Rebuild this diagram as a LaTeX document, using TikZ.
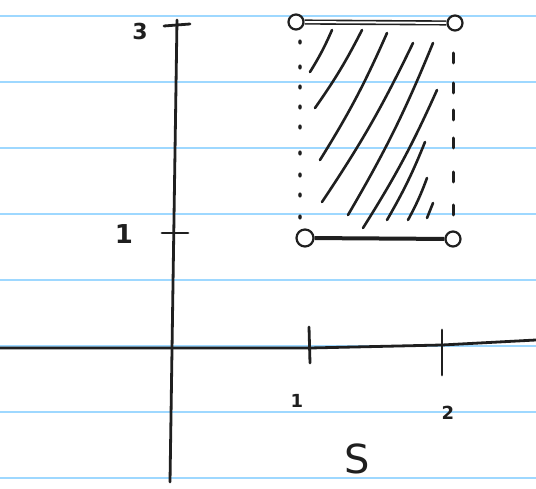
\documentclass[tikz,border=0pt]{standalone}
\usepackage{fontspec}
\setmainfont{DejaVu Sans}
\begin{document}
\begin{tikzpicture}[x=1pt,y=-1pt,
  ruled/.style={draw=blue!40!cyan!38!white, line width=2.2pt},
  ink/.style={draw=black!88, line width=2.8pt, line cap=round},
  hatch/.style={draw=black!88, line width=2.6pt, line cap=round},
  endpt/.style={circle, draw=black!88, line width=2.2pt, minimum size=15pt, inner sep=0pt, fill=white},
  lbl/.style={text=black!88, inner sep=0pt}]
\useasboundingbox (0,0) rectangle (536,489);
\fill[white] (0,0) rectangle (536,489);
% notebook lines
\foreach \yy in {16,82,148,214,280,346,412,478}
  \draw[ruled] (0,\yy) -- (536,\yy);
% axes
\coordinate (ytop) at (177,20);
\coordinate (ybot) at (170,482);
\draw[ink] (ytop) -- (ybot);
\coordinate (xl) at (0,348);
\coordinate (xr) at (536,340);
\draw[ink] (xl) -- (310,348) -- (442,345) -- (xr);
% ticks
\draw[ink] (164,26) -- (190,24);
\draw[ink] (162,233) -- (188,233);
\draw[ink] (309,327) -- (310,363);
\draw[ink] (442,330) -- (442,375);
% labels
\node[lbl, font=\bfseries\fontsize{22}{22}\selectfont] (l3) at (140,31) {3};
\node[lbl, font=\bfseries\fontsize{26}{26}\selectfont] (l1y) at (124,234) {1};
\node[lbl, font=\bfseries\fontsize{18}{18}\selectfont] (l1x) at (297,401) {1};
\node[lbl, font=\bfseries\fontsize{18}{18}\selectfont] (l2x) at (448,413) {2};
\node[lbl, font=\fontsize{40}{40}\selectfont] (ls) at (357,459) {S};
% hatching
\draw[hatch] (310,72) to[bend right=4] (332,30);
\draw[hatch] (315,108) to[bend right=4] (362,30);
\draw[hatch] (320,160) to[bend right=4] (387,33);
\draw[hatch] (322,202) to[bend right=4] (413,43);
\draw[hatch] (348,215) to[bend right=4] (433,43);
\draw[hatch] (363,228) to[bend right=4] (437,90);
\draw[hatch] (387,220) to[bend right=4] (425,142);
\draw[hatch] (408,220) to[bend right=4] (427,178);
\draw[hatch] (427,218) -- (433,203);
% dotted left edge
\foreach \yy in {42,67,87,107,127,153,175,195,217}
  \fill[black!88] (300,\yy) ellipse (1.8 and 2.6);
% dashed right edge
\foreach \yy in {58,88,115,143,177,210}
  \draw[black!88, line width=3pt, line cap=round] (453,\yy-5) -- (453,\yy+5);
% segments
\node[endpt] (tl) at (296,22) {};
\node[endpt] (tr) at (455,23) {};
\node[endpt, minimum size=17pt] (bl) at (305,238) {};
\node[endpt] (br) at (453,239) {};
\draw[black!88, line width=1.6pt, double=white, double distance=2pt] (tl) -- (tr);
\draw[black!88, line width=4pt] (bl) -- (br);
\end{tikzpicture}
\end{document}
